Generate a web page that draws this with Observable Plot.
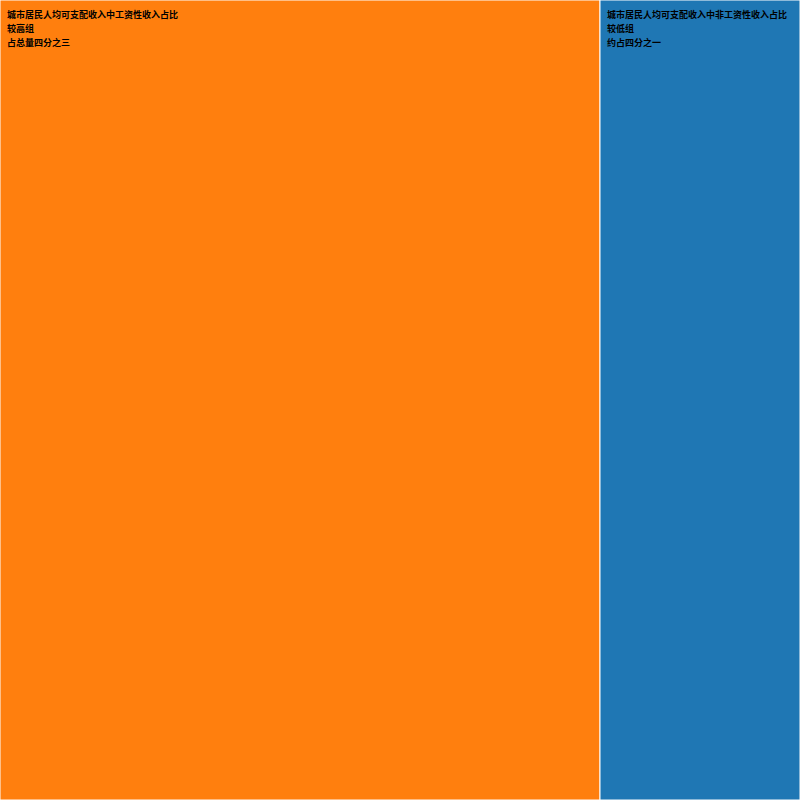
<!DOCTYPE html>
<html><head><meta charset="utf-8">
<script src="https://cdn.jsdelivr.net/npm/d3@7"></script>
<script src="https://cdn.jsdelivr.net/npm/@observablehq/plot@0.6"></script>
<style>body{margin:0;background:#fff}</style>
</head><body><div id="chart"></div>
<script>
// Tile labels (three text lines per tile) and values
const names = ["城市居民人均可支配收入中非工资性收入占比", "城市居民人均可支配收入中工资性收入占比"];
const groups = ["较低组", "较高组"];
const shares = ["约占四分之一", "占总量四分之三"];
const values = [1, 3];
const colors = ["#1f77b4", "#ff7f0e"];

const rootData = {children: names.map((n, i) => ({name: n, group: groups[i], share: shares[i], value: values[i]}))};
const root = d3.hierarchy(rootData).sum(d => d.value || 0).sort((a, b) => b.value - a.value);
d3.treemap().size([800, 800]).tile(d3.treemapSquarify)(root);
const leaves = root.leaves().map(d => ({x0: d.x0, x1: d.x1, y0: d.y0, y1: d.y1, name: d.data.name, group: d.data.group, share: d.data.share}));

const chart = Plot.plot({
  width: 800, height: 800, margin: 0,
  style: {fontFamily: "'Noto Sans CJK SC', sans-serif"},
  x: {domain: [0, 800], range: [0, 800], axis: null},
  y: {domain: [0, 800], range: [0, 800], axis: null},
  color: {domain: names, range: colors},
  marks: [
    Plot.rect(leaves, {x1: "x0", x2: "x1", y1: "y0", y2: "y1", fill: "name", stroke: "white", strokeWidth: 1}),
    Plot.text(leaves, {x: "x0", y: "y0", text: d => `${d.name}\n${d.group}\n${d.share}`, dx: 6.5, dy: 7.5,
      textAnchor: "start", lineAnchor: "top", fontSize: 9, lineHeight: 14 / 9, fill: "black", fontWeight: "bold",
      fontFamily: "'Noto Sans CJK SC', sans-serif"})
  ]
});
document.getElementById("chart").append(chart);
</script>
</body></html>
